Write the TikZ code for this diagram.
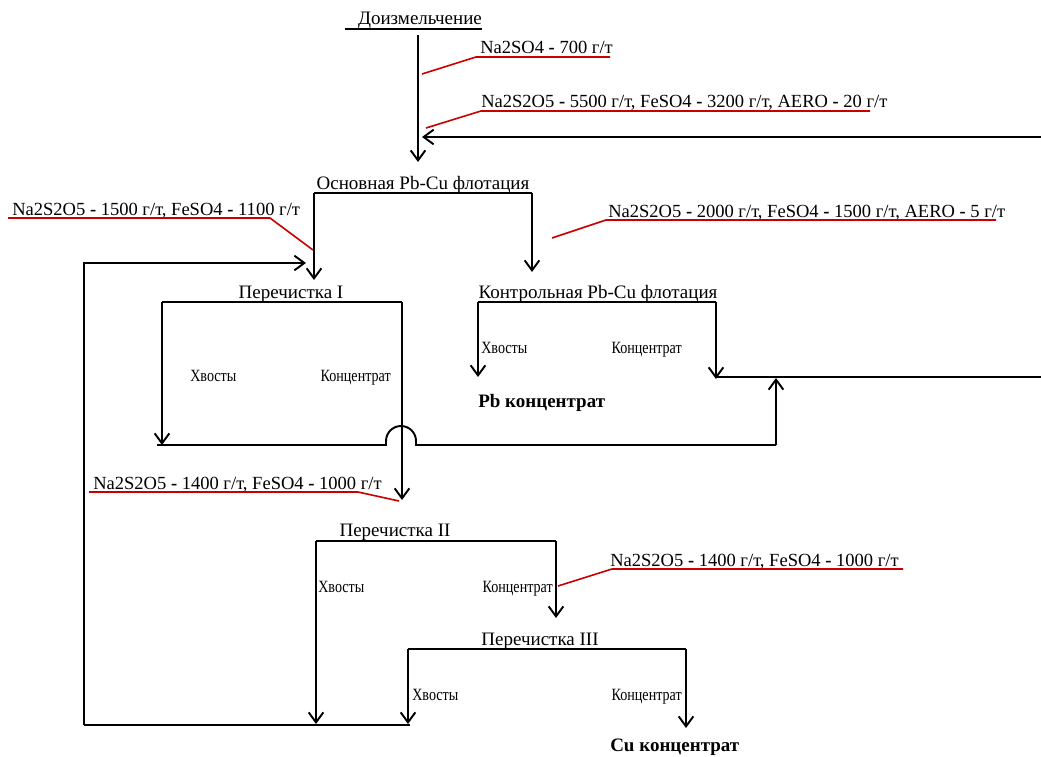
\documentclass[tikz,border=0pt]{standalone}
\usepackage{fontspec}
\setmainfont{Liberation Serif}
\newfontfamily\narrowf{Liberation Serif}[FakeStretch=0.82]
\usetikzlibrary{arrows.meta}
\definecolor{redc}{RGB}{200,0,0}
\begin{document}
\begin{tikzpicture}[x=0.75pt,y=-0.75pt,
  flow/.style={line width=1.45pt, black},
  arr/.style={flow, -{Straight Barb[length=7.5pt,width=11pt]}},
  redl/.style={line width=1.2pt, color=redc},
  title/.style={anchor=base, inner sep=0pt, font=\fontsize{14.25}{16}\selectfont},
  reag/.style={anchor=base west, inner sep=0pt, font=\fontsize{13.9}{16}\selectfont},
  labw/.style={anchor=base west, inner sep=0pt, font=\narrowf\fontsize{12.9}{15}\selectfont},
  labe/.style={anchor=base east, inner sep=0pt, font=\narrowf\fontsize{12.9}{15}\selectfont},
  prod/.style={anchor=base west, inner sep=0pt, font=\bfseries\fontsize{14.25}{16}\selectfont}]
\useasboundingbox (0,0) rectangle (1041,756);

% ---------- Доизмельчение ----------
\node[title] (dizm) at (420,25) {Доизмельчение};
\coordinate (du1) at (345,29);
\coordinate (du2) at (482,29);
\draw[flow] (du1) -- (du2);
\coordinate (da1) at (418,35);
\coordinate (da2) at (418,162);
\draw[arr] (da1) -- (da2);

\node[reag] (re1) at (480,54) {Na2SO4 \textbf{-} 700 г/т};
\coordinate (r1a) at (422,74);
\coordinate (r1b) at (476,57);
\coordinate (r1c) at (610,57);
\draw[redl] (r1a) -- (r1b) -- (r1c);

\node[reag] (re2) at (481,108) {Na2S2O5 \textbf{-} 5500 г/т, FeSO4 \textbf{-} 3200 г/т, AERO \textbf{-} 20 г/т};
\coordinate (r2a) at (426,128);
\coordinate (r2b) at (481,111);
\coordinate (r2c) at (870,111);
\draw[redl] (r2a) -- (r2b) -- (r2c);

\coordinate (fa1) at (1041,137);
\coordinate (fa2) at (422,137);
\draw[arr] (fa1) -- (fa2);

% ---------- Основная ----------
\node[title] (osn) at (423,190) {Основная Pb-Cu флотация};
\coordinate (oL) at (314,193);
\coordinate (oR) at (532,193);
\draw[flow] (oL) -- (oR);
\coordinate (oLt) at (314,280);
\coordinate (oRt) at (532,272);
\draw[arr] (oL) -- (oLt);
\draw[arr] (oR) -- (oRt);

\node[reag] (re3) at (12,215) {Na2S2O5 \textbf{-} 1500 г/т, FeSO4 \textbf{-} 1100 г/т};
\coordinate (r3a) at (8,218);
\coordinate (r3b) at (270,218);
\coordinate (r3c) at (313,250);
\draw[redl] (r3a) -- (r3b) -- (r3c);

\node[reag] (re4) at (608,217) {Na2S2O5 \textbf{-} 2000 г/т, FeSO4 \textbf{-} 1500 г/т, AERO \textbf{-} 5 г/т};
\coordinate (r4a) at (552,238);
\coordinate (r4b) at (606,220);
\coordinate (r4c) at (996,220);
\draw[redl] (r4a) -- (r4b) -- (r4c);

% ---------- return loop ----------
\coordinate (lp1) at (84,725);
\coordinate (lp2) at (84,263);
\coordinate (lp3) at (306,263);
\draw[arr] (lp1) -- (lp2) -- (lp3);

% ---------- Перечистка I ----------
\node[title] (p1) at (291,298) {Перечистка I};
\coordinate (p1L) at (162,302);
\coordinate (p1R) at (402,302);
\draw[flow] (p1L) -- (p1R);
\coordinate (p1Lt) at (162,445);
\draw[arr] (p1L) -- (p1Lt);
\coordinate (p1Rt) at (402,500);
\draw[arr] (p1R) -- (p1Rt);
\coordinate (b1) at (157,445);
\coordinate (b2) at (386,445);
\coordinate (b3) at (386,441);
\coordinate (b4) at (416,445);
\coordinate (b5) at (776,445);
\coordinate (b6) at (776,378);
\draw[flow] (b1) -- (b2) -- (b3) arc[start angle=180, end angle=0, radius=11.25pt] -- (b4) -- (b5);
\draw[arr] (b5) -- (b6);
\node[labw] (hv1) at (190,381) {Хвосты};
\node[labe] (kc1) at (391,381) {Концентрат};

% ---------- Контрольная ----------
\node[title] (kon) at (598,298) {Контрольная Pb-Cu флотация};
\coordinate (kL) at (478,302);
\coordinate (kR) at (716,302);
\draw[flow] (kL) -- (kR);
\coordinate (kLt) at (478,377);
\coordinate (kRt) at (716,379);
\draw[arr] (kL) -- (kLt);
\draw[arr] (kR) -- (kRt);
\node[labw] (hv2) at (481,353) {Хвосты};
\node[labe] (kc2) at (682,353) {Концентрат};
\node[prod] (pbk) at (478,407) {Pb концентрат};
\coordinate (k1) at (716,377);
\coordinate (k2) at (1041,377);
\draw[flow] (k1) -- (k2);

% ---------- Перечистка II ----------
\node[reag] (re5) at (93,489) {Na2S2O5 \textbf{-} 1400 г/т, FeSO4 \textbf{-} 1000 г/т};
\coordinate (r5a) at (89,492);
\coordinate (r5b) at (358,492);
\coordinate (r5c) at (399,501);
\draw[redl] (r5a) -- (r5b) -- (r5c);

\node[title] (p2) at (395,536) {Перечистка II};
\coordinate (p2L) at (316,541);
\coordinate (p2R) at (556,541);
\draw[flow] (p2L) -- (p2R);
\coordinate (p2Lt) at (316,724);
\coordinate (p2Rt) at (556,618);
\draw[arr] (p2L) -- (p2Lt);
\draw[arr] (p2R) -- (p2Rt);
\node[labw] (hv3) at (318,592) {Хвосты};
\node[labe] (kc3) at (553,592) {Концентрат};

\node[reag] (re6) at (610,566) {Na2S2O5 \textbf{-} 1400 г/т, FeSO4 \textbf{-} 1000 г/т};
\coordinate (r6a) at (558,586);
\coordinate (r6b) at (612,569);
\coordinate (r6c) at (903,569);
\draw[redl] (r6a) -- (r6b) -- (r6c);

% ---------- Перечистка III ----------
\node[title] (p3) at (540,645) {Перечистка III};
\coordinate (p3L) at (408,649);
\coordinate (p3R) at (686,649);
\draw[flow] (p3L) -- (p3R);
\coordinate (p3Lt) at (408,724);
\coordinate (p3Rt) at (686,728);
\draw[arr] (p3L) -- (p3Lt);
\draw[arr] (p3R) -- (p3Rt);
\node[labw] (hv4) at (412,700) {Хвосты};
\node[labe] (kc4) at (682,700) {Концентрат};
\node[prod] (cuk) at (610,751) {Cu концентрат};

\coordinate (bt2) at (410,725);
\draw[flow] (lp1) -- (bt2);
\end{tikzpicture}
\end{document}
